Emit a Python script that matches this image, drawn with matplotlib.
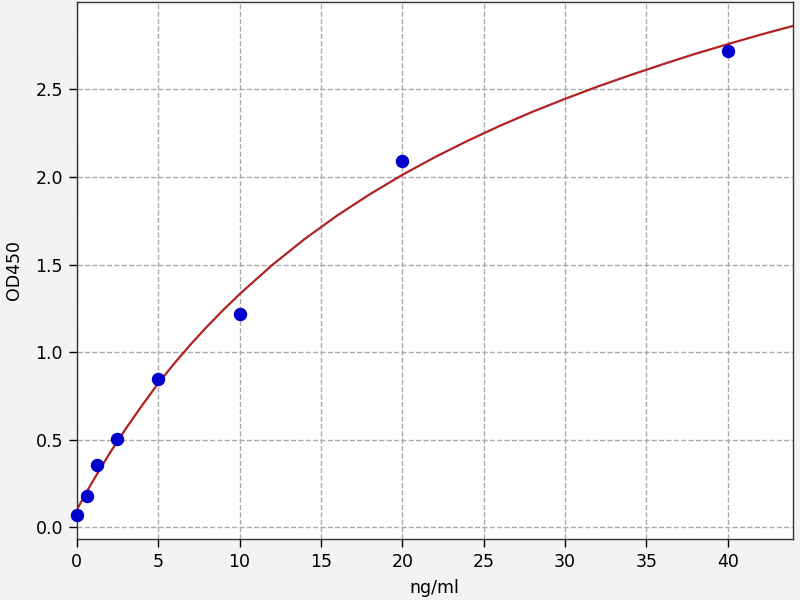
import matplotlib
matplotlib.use("Agg")
import matplotlib.pyplot as plt

# standards (ng/ml) and measured OD450
conc = [0, 0.625, 1.25, 2.5, 5, 10, 20, 40]
od = [0.072, 0.18, 0.357, 0.507, 0.845, 1.22, 2.09, 2.72]

# fitted curve
curve_x = [0, 0.5, 1, 1.5, 2, 2.5, 3, 4, 5, 6, 7, 8, 9, 10, 12, 14, 16, 18,
           20, 22, 24, 26, 28, 30, 32, 34, 36, 38, 40, 42, 44]
curve_y = [0.100, 0.185, 0.266, 0.344, 0.420, 0.492, 0.562, 0.695, 0.822, 0.937,
           1.045, 1.146, 1.241, 1.331, 1.497, 1.646, 1.780, 1.901, 2.012, 2.113,
           2.206, 2.292, 2.372, 2.446, 2.516, 2.581, 2.643, 2.703, 2.758, 2.812,
           2.862]

fig = plt.figure(figsize=(8, 6), dpi=100, facecolor="#f3f3f3")
ax = fig.add_axes([0.096, 0.102, 0.895, 0.895])
ax.set_facecolor("white")

ax.plot(curve_x, curve_y, color="#b22222", lw=1.6, zorder=2)
ax.scatter(conc, od, s=75, color="#0000cc", zorder=3, clip_on=False)

ax.set_xlim(0, 44)
ax.set_ylim(-0.065, 3.0)
ax.set_xticks([0, 5, 10, 15, 20, 25, 30, 35, 40])
ax.set_yticks([0.0, 0.5, 1.0, 1.5, 2.0, 2.5])
ax.grid(True, linestyle="--", color="#aaaaaa", linewidth=1.0)
ax.set_axisbelow(True)
ax.tick_params(labelsize=12.5, length=6, width=1.0, pad=4)
for s in ax.spines.values():
    s.set_linewidth(1.0)
    s.set_color("#333333")

ax.set_xlabel("ng/ml", fontsize=12.5, labelpad=6)
ax.set_ylabel("OD450", fontsize=12.5, labelpad=9)

fig.savefig("out.png", dpi=100, facecolor=fig.get_facecolor())
